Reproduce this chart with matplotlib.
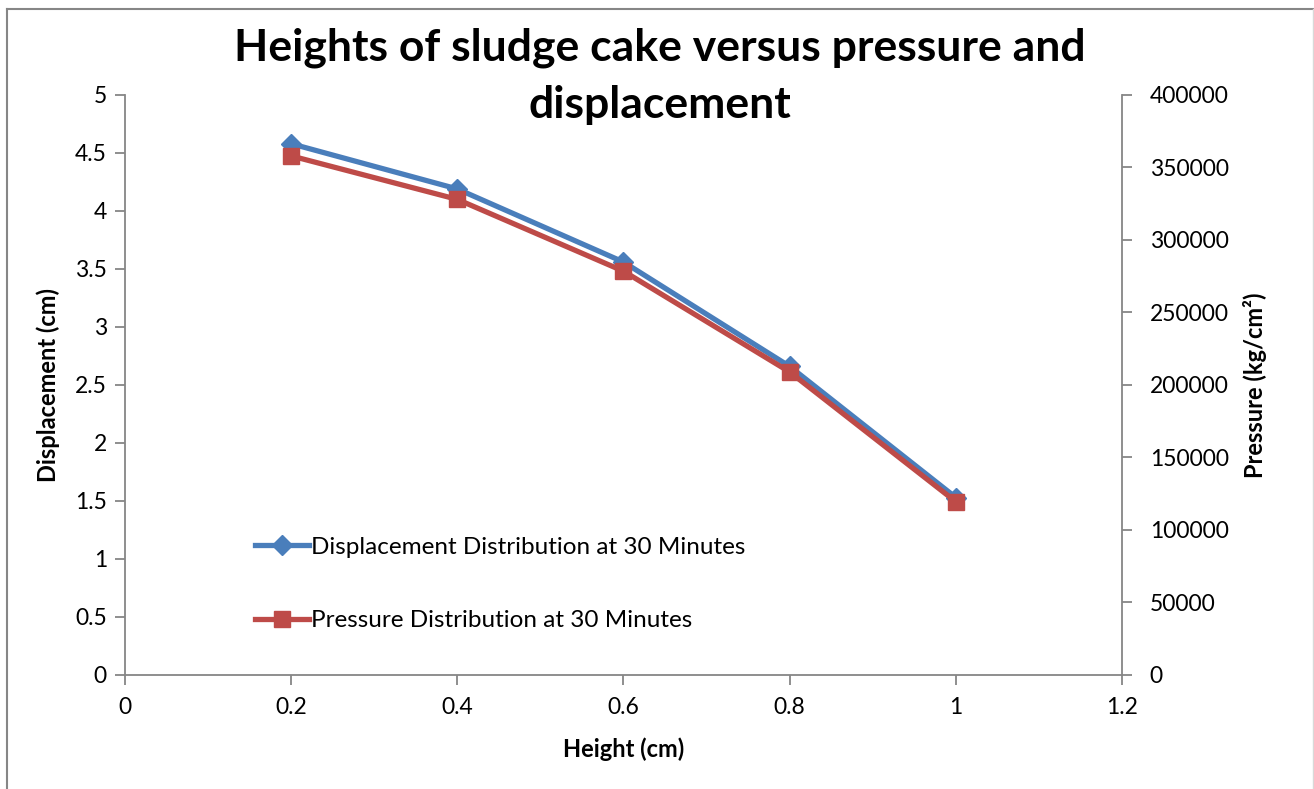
import matplotlib
matplotlib.use('Agg')
import matplotlib.pyplot as plt
from matplotlib.lines import Line2D

# ----------------------------- Data -----------------------------
height = [0.2, 0.4, 0.6, 0.8, 1.0]
displacement = [4.58, 4.19, 3.56, 2.66, 1.53]
pressure = [358000, 328000, 278500, 209000, 119500]

blue = '#4A7EBB'
red = '#BE4B48'
grey = '#868686'
# ----------------------------------------------------------------

plt.rcParams['font.family'] = ['Lato', 'DejaVu Sans']

fig = plt.figure(figsize=(13.14, 7.89), dpi=100)
ax = fig.add_axes([0.0951, 0.1445, 0.7588, 0.7351])
ax2 = ax.twinx()

l1, = ax.plot(height, displacement, color=blue, lw=3.8, marker='D', ms=10,
              mfc=blue, mec=blue, label='Displacement Distribution at 30 Minutes', zorder=3)
l2, = ax2.plot(height, pressure, color=red, lw=3.8, marker='s', ms=12,
               mfc=red, mec=red, label='Pressure Distribution at 30 Minutes', zorder=3)

ax.set_xlim(0, 1.2)
ax.set_ylim(0, 5)
ax2.set_ylim(0, 400000)
ax.set_xticks([0, 0.2, 0.4, 0.6, 0.8, 1, 1.2])
ax.set_xticklabels(['0', '0.2', '0.4', '0.6', '0.8', '1', '1.2'])
ax.set_yticks([0, 0.5, 1, 1.5, 2, 2.5, 3, 3.5, 4, 4.5, 5])
ax.set_yticklabels(['0', '0.5', '1', '1.5', '2', '2.5', '3', '3.5', '4', '4.5', '5'])
ax2.set_yticks(range(0, 400001, 50000))

for a in (ax, ax2):
    for s in a.spines.values():
        s.set_visible(False)
ax.spines['left'].set_visible(True)
ax.spines['bottom'].set_visible(True)
ax2.spines['right'].set_visible(True)
for s in (ax.spines['left'], ax.spines['bottom'], ax2.spines['right']):
    s.set_color(grey)
    s.set_linewidth(1.3)

ax.tick_params(axis='both', direction='out', length=7, width=1.3, color=grey,
               labelsize=16.5, pad=6)
ax.tick_params(axis='x', pad=9)
ax2.tick_params(axis='y', direction='out', length=7, width=1.3, color=grey,
                labelsize=16.5, pad=13)

ax.set_xlabel('Height (cm)', fontsize=17, fontweight='bold', labelpad=14)
ax.set_ylabel('Displacement (cm)', fontsize=17, fontweight='bold', labelpad=11)
ax2.set_ylabel('Pressure (kg/cm²)', fontsize=17, fontweight='bold', labelpad=10)

fig.text(0.502, 0.965, 'Heights of sludge cake versus pressure and\ndisplacement',
         ha='center', va='top', fontsize=32, fontweight='bold', linespacing=1.5)

ax2.legend(handles=[l1, l2], loc='upper left', bbox_to_anchor=(0.185, 0.335),
           bbox_transform=fig.transFigure, frameon=False, fontsize=17.5,
           handlelength=2.2, handletextpad=0.1, labelspacing=2.15, borderpad=0)

# outer chart border
fig.add_artist(Line2D([0.0053, 0.0053], [0, 0.989], color=grey, lw=1.5,
                      transform=fig.transFigure))
fig.add_artist(Line2D([0.0053, 1.0], [0.989, 0.989], color=grey, lw=1.5,
                      transform=fig.transFigure))
fig.add_artist(Line2D([0.999, 0.999], [0, 0.989], color='#d9d9d9', lw=1.0,
                      transform=fig.transFigure))

fig.savefig('out.png', dpi=100)
